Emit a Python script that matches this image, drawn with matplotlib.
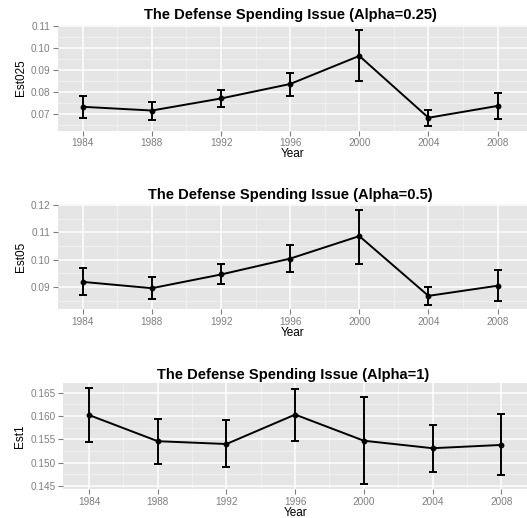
import matplotlib
matplotlib.use("Agg")
import matplotlib.pyplot as plt
from matplotlib.ticker import MultipleLocator, FixedLocator

plt.rcParams['font.family'] = ['Liberation Sans', 'DejaVu Sans']

years = [1984, 1988, 1992, 1996, 2000, 2004, 2008]

est025 = [0.0732, 0.0715, 0.0770, 0.0836, 0.0964, 0.0682, 0.0736]
est025_hi = [0.0781, 0.0754, 0.0810, 0.0886, 0.1080, 0.0718, 0.0794]
est025_lo = [0.0682, 0.0672, 0.0730, 0.0783, 0.0849, 0.0644, 0.0676]

est05 = [0.0919, 0.0896, 0.0946, 0.1004, 0.1086, 0.0868, 0.0905]
est05_hi = [0.0968, 0.0935, 0.0983, 0.1052, 0.1183, 0.0902, 0.0963]
est05_lo = [0.0871, 0.0858, 0.0910, 0.0955, 0.0986, 0.0835, 0.0850]

est1 = [0.1602, 0.1546, 0.1540, 0.1603, 0.1547, 0.1531, 0.1538]
est1_hi = [0.1659, 0.1594, 0.1592, 0.1658, 0.1641, 0.1580, 0.1604]
est1_lo = [0.1544, 0.1498, 0.1490, 0.1547, 0.1454, 0.1481, 0.1473]

titles = ["The Defense Spending Issue (Alpha=0.25)",
          "The Defense Spending Issue (Alpha=0.5)",
          "The Defense Spending Issue (Alpha=1)"]
ylabels = ["Est025", "Est05", "Est1"]

W, H = 527, 518
fig = plt.figure(figsize=(W / 100, H / 100), dpi=100)

# panel pixel boxes: left, top, bottom
boxes = [(58, 25, 130.7), (58, 204.3, 309.3), (63.3, 383.3, 489.3)]
ylims = [(0.0623, 0.1105), (0.0819, 0.1202), (0.1443, 0.1670)]
ymajor = [0.01, 0.01, 0.005]
yfmt = ["{:.2f}", "{:.2f}", "{:.3f}"]
xlims = [(1982.57, 2009.7), (1982.57, 2009.7), (1982.5, 2009.5)]
title_y = [15, 195, 375]
title_x = [290, 290, 293]

series = [(est025, est025_lo, est025_hi), (est05, est05_lo, est05_hi), (est1, est1_lo, est1_hi)]

for i in range(3):
    l, t, b = boxes[i]
    ax = fig.add_axes([l / W, 1 - b / H, 1 - l / W, (b - t) / H])
    ax.set_facecolor('#E5E5E5')
    for s in ax.spines.values():
        s.set_visible(False)
    est, lo, hi = series[i]
    yerr = [[e - a for e, a in zip(est, lo)], [h - e for e, h in zip(est, hi)]]
    ax.errorbar(years, est, yerr=yerr, color='black', lw=1.4, capsize=3.2,
                capthick=1.4, elinewidth=1.4, marker='o', ms=3.2, zorder=3)
    ax.set_xlim(*xlims[i])
    ax.xaxis.set_major_locator(FixedLocator(years))
    ax.xaxis.set_minor_locator(FixedLocator([y + 2 for y in years[:-1]] + [1982]))
    ax.yaxis.set_major_locator(MultipleLocator(ymajor[i]))
    ax.yaxis.set_minor_locator(MultipleLocator(ymajor[i] / 2))
    ax.set_ylim(*ylims[i])
    ticks = [v for v in ax.get_yticks() if ylims[i][0] <= v <= ylims[i][1]]
    ax.set_yticks(ticks)
    ax.set_yticklabels([yfmt[i].format(v) for v in ticks])
    ax.set_ylim(*ylims[i])
    ax.grid(which='major', color='white', lw=1.1)
    ax.grid(which='minor', color='#F2F2F2', lw=0.6)
    ax.set_axisbelow(True)
    ax.tick_params(which='major', length=3.5, width=0.8, color='#7F7F7F',
                   labelcolor='#7F7F7F', labelsize=7.2, pad=2)
    ax.tick_params(which='minor', length=0)
    ax.set_xlabel("Year", fontsize=8.5, labelpad=0)
    ax.set_ylabel(ylabels[i], fontsize=8.5, labelpad=3)
    fig.text(title_x[i] / W, 1 - title_y[i] / H, titles[i], ha='center', va='center',
             fontsize=10.6, fontweight='bold')

fig.savefig("out.png", dpi=100)
